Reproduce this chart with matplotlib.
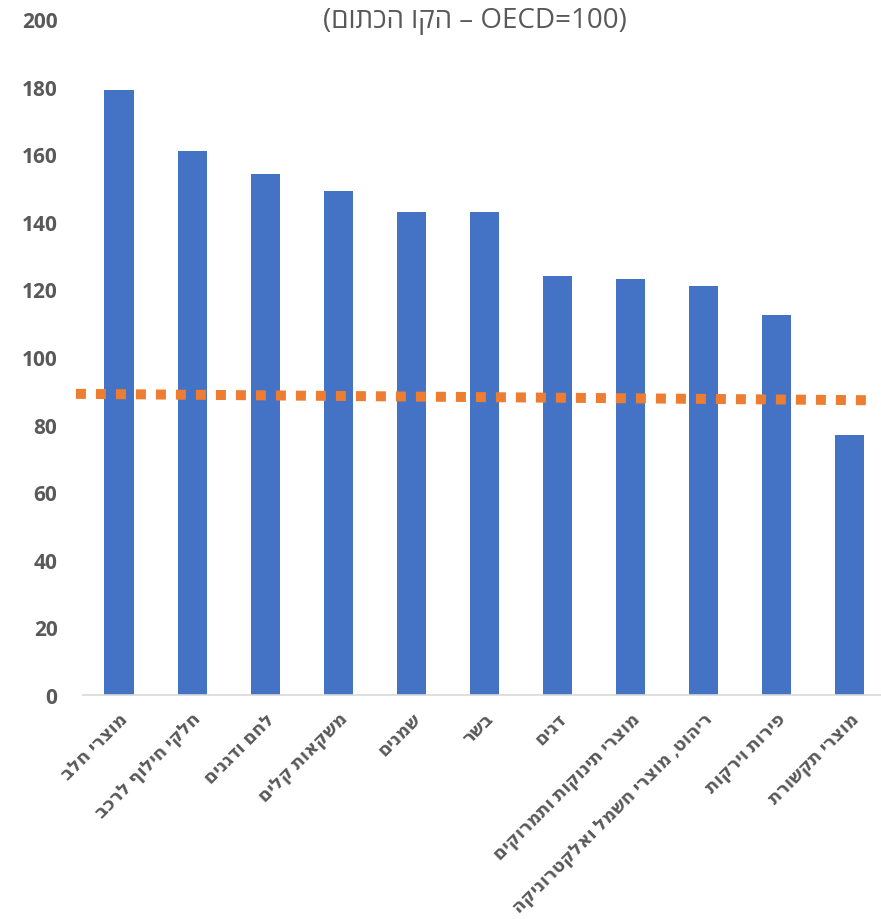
import matplotlib
matplotlib.use("Agg")
import matplotlib.pyplot as plt
import numpy as np

# ── palette ───────────────────────────────────────────────────────────────────
BLUE   = "#4472C4"
ORANGE = "#ED7D31"
INK    = "#595959"
AXIS   = "#D9D9D9"

FONT = ["Open Sans", "DejaVu Sans"]

# ── data (logical Hebrew order) ───────────────────────────────────────────────
categories = [
    "מוצרי חלב",
    "חלקי חילוף לרכב",
    "לחם ודגנים",
    "משקאות קלים",
    "שמנים",
    "בשר",
    "דגים",
    "מוצרי תינוקות ותמרוקים",
    "ריהוט, מוצרי חשמל ואלקטרוניקה",
    "פירות וירקות",
    "מוצרי תקשורת",
]
values = [179, 161, 154, 149, 143, 143, 124, 123, 121, 112.3, 77]

# orange line (OECD), endpoints in category units
trend_x = [-0.59, 10.3]
trend_y = [89.1, 87.2]

y_ticks = [0, 20, 40, 60, 80, 100, 120, 140, 160, 180, 200]


def visual(s):
    # matplotlib has no bidi: lay Hebrew out right to left by hand
    return s[::-1]


plt.rcParams["font.family"] = FONT

fig = plt.figure(figsize=(8.81, 9.2), dpi=100)
ax = fig.add_axes([82.5 / 881, 224 / 920, (881 - 82.5) / 881, 676 / 920])

x = np.arange(len(categories))
ax.bar(x, values, width=0.4, color=BLUE, zorder=2)

ax.plot(trend_x, trend_y, color=ORANGE, lw=7.2, ls=(0, (1, 1)),
        solid_capstyle="butt", dash_capstyle="butt", zorder=3, clip_on=False)

ax.set_xlim(-0.5, (881 - 118.8) / 73.1)
ax.set_ylim(0, 200)
ax.set_yticks(y_ticks)
ax.set_yticklabels([str(t) for t in y_ticks], fontsize=15, fontweight="bold",
                   color=INK)
ax.tick_params(axis="y", length=0, pad=18)
ax.tick_params(axis="x", length=0)

ax.set_xticks(x)
ax.set_xticklabels([visual(c) for c in categories], rotation=45, ha="right",
                   va="top", rotation_mode="anchor", fontsize=13,
                   fontweight="bold", color=INK)
for lab in ax.get_xticklabels():
    lab.set_y(-0.014)

for side in ["top", "right", "left"]:
    ax.spines[side].set_visible(False)
ax.spines["bottom"].set_color(AXIS)
ax.spines["bottom"].set_linewidth(1.2)

title = "(" + visual("הקו הכתום") + " – OECD=100)"
fig.text(475 / 881, 1 - 21 / 920, title, ha="center", va="center",
         fontsize=20, color=INK)

fig.savefig("out.png", dpi=100, facecolor="white")
